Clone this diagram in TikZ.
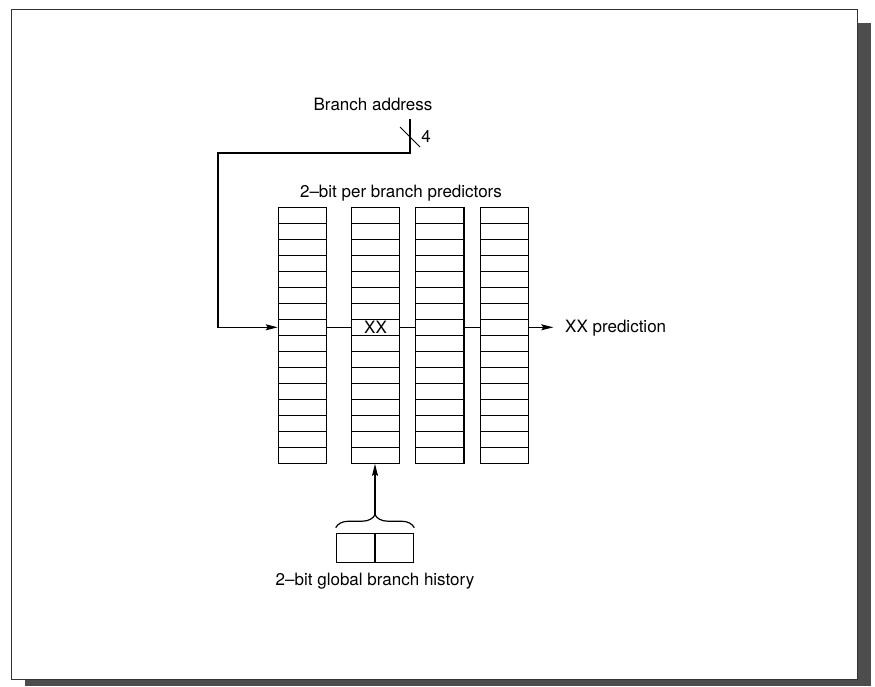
\documentclass[tikz,border=0pt]{standalone}
\usepackage{fontspec}
\setmainfont{TeX Gyre Heros}
\usetikzlibrary{arrows.meta,decorations.pathreplacing}
\definecolor{bpShadow}{HTML}{4D4D4D}
\definecolor{bpEdge}{HTML}{333333}
\newcommand\bplabel{\fontsize{17}{20}\selectfont}
\tikzset{
  bp frame/.style={draw=bpEdge, fill=white, line width=0.9pt},
  bp cell/.style={draw, line width=1.2pt, minimum width=48.4pt, minimum height=16pt, inner sep=0pt},
  bp wire/.style={draw, line width=1.2pt},
  bp arrow/.style={bp wire, -{Stealth[length=12pt,width=6pt,inset=2pt]}},
  bp label/.style={font=\bplabel, inner sep=0pt, anchor=base},
}

\begin{document}
\begin{tikzpicture}[x=1pt, y=-1pt]
  \useasboundingbox (0,0) rectangle (875,686);
  % Frame with drop shadow
  \fill[bpShadow] (25,23) rectangle (871,686);
  \path[bp frame] (11,9) rectangle (857,679);
  % Four predictor tables, 16 counters each
  \foreach \c/\x in {1/302.5, 2/375.5, 3/439.8, 4/504.5}
    \foreach \r in {1,...,16}
      \node[bp cell] (c\c-\r) at (\x, {207.3+16*(\r-0.5)}) {};
  \node[bp label, anchor=center] (xx) at (c2-8) {XX};
  % Labels
  \node[bp label] (addr) at (373,110.7) {Branch address};
  \node[bp label] (width) at (426,142) {4};
  \node[bp label] (title) at (401,197) {2–bit per branch predictors};
  \node[bp label, anchor=base west] (pred) at (565,332) {XX prediction};
  % Address bus into the first table
  \coordinate (addrin) at (410,119);
  \coordinate (turn) at (218,153);
  \draw[bp arrow] (addrin) |- (turn) |- (c1-8.west);
  \draw[bp wire, line width=1pt] (addrin) ++(-10,8) -- ++(20,20);
  % Selected row through the tables
  \draw[bp wire] (c1-8.east) -- (c2-8.west);
  \draw[bp wire] (c2-8.east) -- (c3-8.west);
  \draw[bp wire] (c3-8.east) -- (c4-8.west);
  \draw[bp arrow] (c4-8.east) -- ++(24,0);
  % Global history register
  \node[bp cell, minimum width=77.4pt, minimum height=29.4pt] (hist) at (375,548) {};
  \draw[bp wire] (hist.north) -- (hist.south);
  \node[bp label] (histlbl) at (375,585) {2–bit global branch history};
  \draw[bp wire, decorate, decoration={brace, amplitude=13pt}]
    ([yshift=5pt]hist.north west) -- ([yshift=5pt]hist.north east);
  \coordinate (tip) at ([yshift=18pt]hist.north);
  \draw[bp arrow] (tip) -- (tip |- c2-16.south);
\end{tikzpicture}
\end{document}
